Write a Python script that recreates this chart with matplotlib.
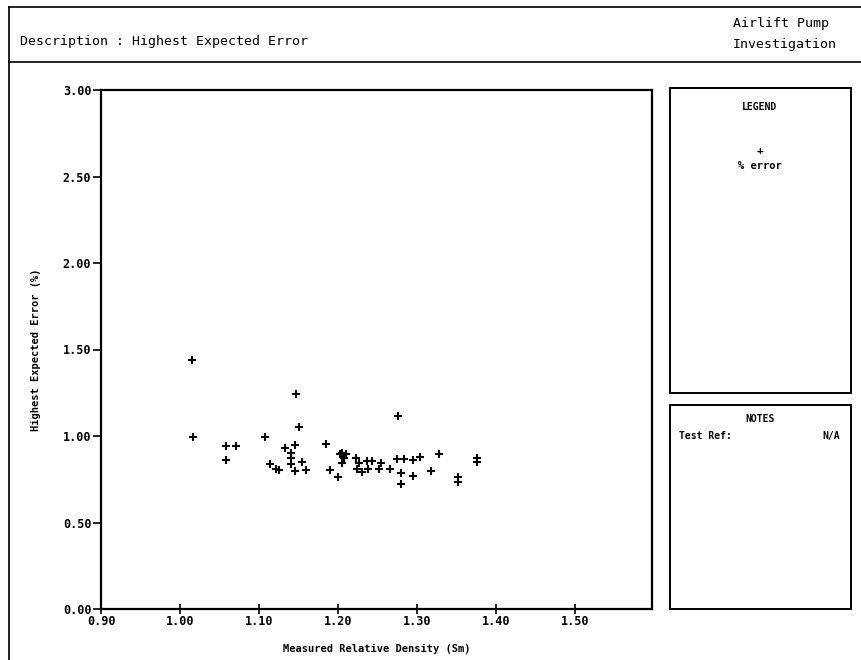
import matplotlib
matplotlib.use('Agg')
import matplotlib.pyplot as plt
from matplotlib.lines import Line2D

# measured relative density (Sm) and highest expected error (%)
density = [1.015, 1.017, 1.058, 1.058, 1.071, 1.107, 1.114, 1.121, 1.125,
           1.133, 1.140, 1.140, 1.140, 1.146, 1.146, 1.147, 1.150, 1.154,
           1.159, 1.184, 1.190, 1.200, 1.202, 1.205, 1.205, 1.208, 1.210,
           1.223, 1.224, 1.226, 1.230, 1.237, 1.238, 1.243, 1.252, 1.254,
           1.265, 1.275, 1.276, 1.279, 1.279, 1.283, 1.295, 1.295, 1.303,
           1.317, 1.328, 1.351, 1.351, 1.376, 1.376]
error_pct = [1.44, 0.996, 0.942, 0.863, 0.940, 0.994, 0.838, 0.811, 0.803,
             0.932, 0.903, 0.871, 0.836, 0.948, 0.798, 1.243, 1.054, 0.850,
             0.803, 0.952, 0.805, 0.765, 0.896, 0.903, 0.846, 0.871, 0.894,
             0.871, 0.808, 0.846, 0.794, 0.855, 0.808, 0.855, 0.809, 0.842,
             0.808, 0.867, 1.117, 0.788, 0.721, 0.867, 0.860, 0.769, 0.877,
             0.798, 0.894, 0.765, 0.735, 0.872, 0.850]

x_ticks = [0.90, 1.00, 1.10, 1.20, 1.30, 1.40, 1.50]
y_ticks = [0.00, 0.50, 1.00, 1.50, 2.00, 2.50, 3.00]

W, H = 862, 660
def fx(px):
    return px / W
def fy(py):
    return 1 - py / H

mono = 'DejaVu Sans Mono'
fig = plt.figure(figsize=(8.62, 6.6), dpi=100)

# outer frame and header
lw_frame = 1.2
for (x0, y0, x1, y1) in [(9, 7, 862, 7), (9, 62, 862, 62), (9, 7, 9, 660)]:
    fig.add_artist(Line2D([fx(x0), fx(x1)], [fy(y0), fy(y1)], color='black', lw=lw_frame))
fig.text(fx(20), fy(45), 'Description : Highest Expected Error', family=mono,
         fontsize=9.5, va='baseline')
fig.text(fx(733), fy(27), 'Airlift Pump', family=mono, fontsize=9.5, va='baseline')
fig.text(fx(733), fy(48), 'Investigation', family=mono, fontsize=9.5, va='baseline')

# main plot
ax = fig.add_axes([fx(101), fy(609), fx(652) - fx(101), fy(90) - fy(609)])
ax.plot(density, error_pct, linestyle='none', marker='+', color='black',
        markersize=6, mew=1.5)
ax.set_xlim(0.90, 1.597)
ax.set_ylim(0, 3.0)
ax.set_xticks(x_ticks)
ax.set_xticklabels(['%.2f' % v for v in x_ticks])
ax.set_yticks(y_ticks)
ax.set_yticklabels(['%.2f' % v for v in y_ticks])
for lab in ax.get_xticklabels() + ax.get_yticklabels():
    lab.set_family(mono)
    lab.set_fontsize(8.5)
    lab.set_fontweight('bold')
ax.tick_params(axis='x', direction='inout', length=7, width=1.2, pad=1)
ax.tick_params(axis='y', direction='out', length=6, width=1.2, pad=1)
for s in ax.spines.values():
    s.set_linewidth(1.6)
ax.set_xlabel('Measured Relative Density (Sm)', family=mono, fontsize=7.5,
              fontweight='bold', labelpad=11)
ax.set_ylabel('Highest Expected Error (%)', family=mono, fontsize=7.5,
              fontweight='bold', labelpad=16)

# legend box
lg = fig.add_axes([fx(670), fy(393), fx(851) - fx(670), fy(88) - fy(393)])
lg.set_xticks([])
lg.set_yticks([])
for s in lg.spines.values():
    s.set_linewidth(1.4)
fig.text(fx(760), fy(107), 'LEGEND', family=mono, fontsize=7, fontweight='bold',
         ha='center', va='center')
fig.text(fx(760), fy(151), '+', family=mono, fontsize=8, fontweight='bold',
         ha='center', va='center')
fig.text(fx(760), fy(166), '% error', family=mono, fontsize=7.5, fontweight='bold',
         ha='center', va='center')

# notes box
nt = fig.add_axes([fx(670), fy(609), fx(851) - fx(670), fy(405) - fy(609)])
nt.set_xticks([])
nt.set_yticks([])
for s in nt.spines.values():
    s.set_linewidth(1.4)
fig.text(fx(760), fy(419), 'NOTES', family=mono, fontsize=7, fontweight='bold',
         ha='center', va='center')
fig.text(fx(679), fy(436), 'Test Ref:', family=mono, fontsize=7, fontweight='bold',
         ha='left', va='center')
fig.text(fx(840), fy(436), 'N/A', family=mono, fontsize=7, fontweight='bold',
         ha='right', va='center')

fig.savefig('out.png', dpi=100)
